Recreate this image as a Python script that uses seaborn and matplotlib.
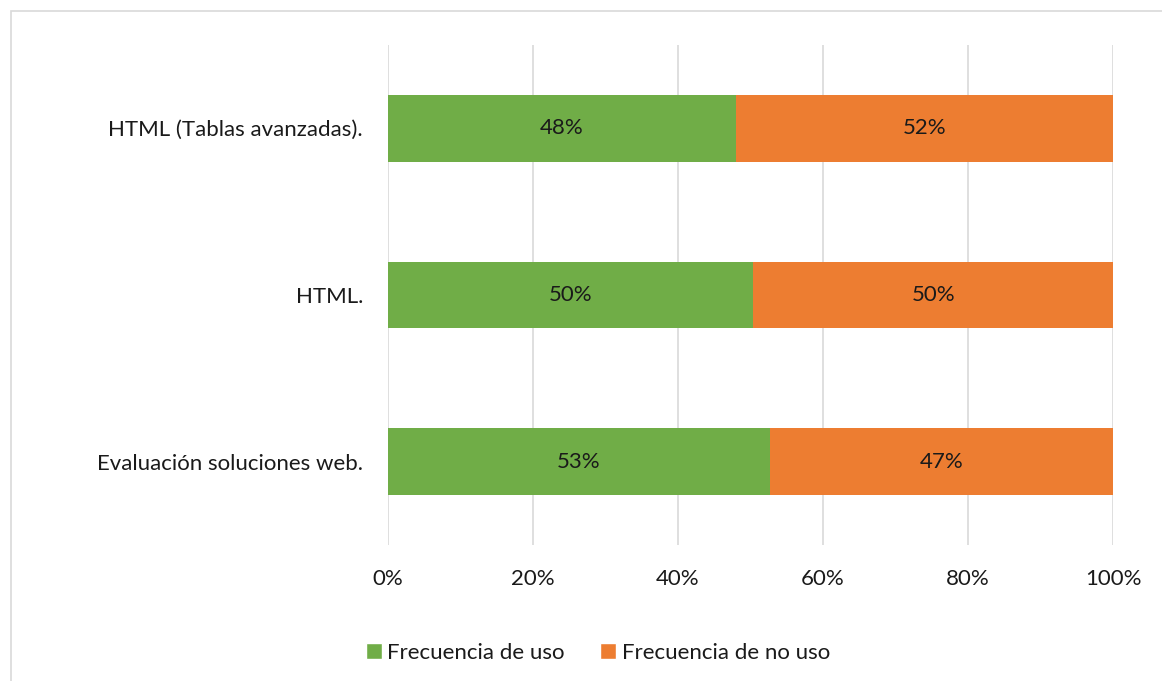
import pandas as pd
import seaborn as sns
import matplotlib.pyplot as plt
from matplotlib.patches import Rectangle, Patch

categories = ["HTML (Tablas avanzadas).", "HTML.", "Evaluación soluciones web."]
uso = [48.0, 50.4, 52.7]
no_uso = [52.0, 49.6, 47.3]
series = ["Frecuencia de uso", "Frecuencia de no uso"]
ticks = [0, 20, 40, 60, 80, 100]

green = "#70AD47"
orange = "#ED7D31"
text_color = "#1a1a1a"
fs = 16

df = pd.DataFrame({"cat": categories, "uso": uso, "no_uso": no_uso})
df["total"] = df["uso"] + df["no_uso"]

sns.set_style("white")
plt.rcParams["font.family"] = ["Lato", "DejaVu Sans"]

fig = plt.figure(figsize=(11.62, 6.81), dpi=100)
ax = fig.add_axes([388 / 1162, 1 - 545 / 681, 725 / 1162, 500 / 681])

# stacked: full bar in orange, green part drawn on top
sns.barplot(data=df, y="cat", x="total", color=orange, orient="h",
            width=0.4, ax=ax, saturation=1, linewidth=0, zorder=2)
sns.barplot(data=df, y="cat", x="uso", color=green, orient="h",
            width=0.4, ax=ax, saturation=1, linewidth=0, zorder=3)

for i, row in df.iterrows():
    ax.text(row["uso"] / 2, i, f"{round(row['uso'])}%", ha="center",
            va="center", fontsize=fs, color=text_color, zorder=4)
    ax.text(row["uso"] + row["no_uso"] / 2, i, f"{round(row['no_uso'])}%",
            ha="center", va="center", fontsize=fs, color=text_color, zorder=4)

ax.set_xlim(0, 100)
ax.set_ylim(2.5, -0.5)
ax.set_xticks(ticks)
ax.set_xticklabels([f"{t}%" for t in ticks])
ax.set_xlabel("")
ax.set_ylabel("")
ax.xaxis.grid(True, color="#D9D9D9", linewidth=1.2, zorder=0)
ax.yaxis.grid(False)
ax.set_axisbelow(True)
for s in ax.spines.values():
    s.set_visible(False)
ax.tick_params(axis="x", length=0, pad=17, labelsize=fs, colors=text_color)
ax.tick_params(axis="y", length=0, pad=18, labelsize=fs, colors=text_color)

handles = [Patch(facecolor=green), Patch(facecolor=orange)]
fig.legend(handles, series, loc="center", bbox_to_anchor=(598 / 1162, 1 - 653 / 681),
           ncol=2, frameon=False, fontsize=fs, handlelength=0.7, handleheight=0.7,
           handletextpad=0.25, columnspacing=1.6, labelcolor=text_color)

fig.patches.append(Rectangle((11 / 1162, -0.05), 1.1, 1.05 - 11 / 681,
                             transform=fig.transFigure, fill=False,
                             edgecolor="#D9D9D9", linewidth=1.2))

fig.savefig("out.png", dpi=100)
